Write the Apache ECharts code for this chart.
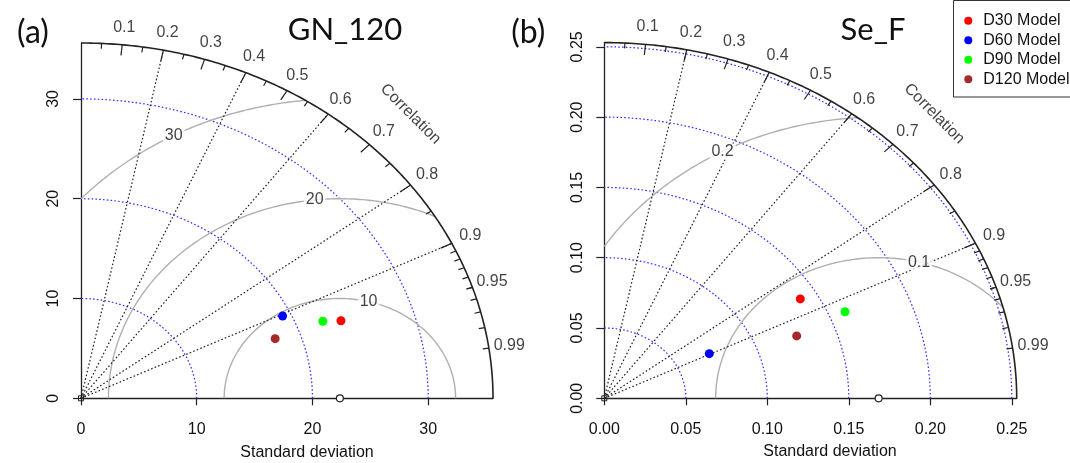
<!DOCTYPE html>
<html><head><meta charset="utf-8">
<script src="https://cdn.jsdelivr.net/npm/echarts@6/dist/echarts.min.js"></script>
<style>html,body{margin:0;padding:0;background:#fff}#c{width:1070px;height:463px}</style>
</head><body><div id="c"></div>
<script>
// ---------- data ----------
const panelTitles = ['GN_120', 'Se_F'];
const panelTags = ['(a)', '(b)'];
const modelNames = ['D30 Model', 'D60 Model', 'D90 Model', 'D120 Model'];
const modelColors = ['#ff0000', '#0000ff', '#00ff00', '#a52a2a'];
const corrLines = [0.2, 0.4, 0.6, 0.8, 0.9];
const corrLabelValues = [0.1, 0.2, 0.3, 0.4, 0.5, 0.6, 0.7, 0.8, 0.9, 0.95, 0.99];
const corrLabelTexts = ['0.1', '0.2', '0.3', '0.4', '0.5', '0.6', '0.7', '0.8', '0.9', '0.95', '0.99'];

// panel (a) GN_120
const refSdA = 22.37;
const modelSdA = [23.77, 19.27, 22.28, 17.81];
const modelCorrA = [0.945, 0.904, 0.938, 0.942];
const maxSdA = 35.6;
const sdTicksA = [0, 10, 20, 30];
const sdArcsA = [10, 20, 30];
const rmsArcsA = [10, 20, 30];
const rmsLabelsA = ['10', '20', '30'];

// panel (b) Se_F
const refSdB = 0.1683;
const modelSdB = [0.1395, 0.0718, 0.1600, 0.1261];
const modelCorrB = [0.862, 0.897, 0.923, 0.936];
const maxSdB = 0.253;
const sdTicksB = [0, 0.05, 0.10, 0.15, 0.20, 0.25];
const sdArcsB = [0.05, 0.10, 0.15, 0.20, 0.25];
const rmsArcsB = [0.1, 0.2];
const rmsLabelsB = ['0.1', '0.2'];

// ---------- layout / style ----------
const FONT = '"Liberation Sans", Arial, sans-serif';
const TFONT = 'Lato, "Liberation Sans", sans-serif';
const TXT = '#111';
const grids = [
  { left: 81, top: 43, width: 412, height: 355.3 },
  { left: 604.3, top: 42.6, width: 412.4, height: 355.7 }
];
const DOT = [1.6, 2.2];

const panels = [
  { ref: refSdA, sd: modelSdA, cor: modelCorrA, max: maxSdA, ticks: sdTicksA, arcs: sdArcsA, rms: rmsArcsA, rmsLab: rmsLabelsA, dec: 0 },
  { ref: refSdB, sd: modelSdB, cor: modelCorrB, max: maxSdB, ticks: sdTicksB, arcs: sdArcsB, rms: rmsArcsB, rmsLab: rmsLabelsB, dec: 2 }
];

function arc(cx, r, t0, t1, n) {
  const pts = [];
  for (let i = 0; i <= n; i++) {
    const t = t0 + (t1 - t0) * i / n;
    pts.push([cx + r * Math.cos(t), r * Math.sin(t)]);
  }
  return pts;
}

const series = [];
const xAxes = [], yAxes = [];

panels.forEach((p, gi) => {
  const base = { xAxisIndex: gi, yAxisIndex: gi, silent: true, animation: false };
  const M = p.max;
  xAxes.push({
    gridIndex: gi, type: 'value', min: 0, max: M,
    axisLine: { show: true, onZero: false, lineStyle: { color: '#222', width: 1.3 } },
    axisTick: { show: true, length: 7, customValues: p.ticks, lineStyle: { color: '#222', width: 1.2 } },
    axisLabel: { customValues: p.ticks, fontSize: 16, color: TXT, fontFamily: FONT, margin: 23,
      formatter: v => Number(v).toFixed(p.dec) },
    splitLine: { show: false }
  });
  yAxes.push({
    gridIndex: gi, type: 'value', min: 0, max: M,
    axisLine: { show: true, onZero: false, lineStyle: { color: '#222', width: 1.3 } },
    axisTick: { show: true, length: 8, customValues: p.ticks, lineStyle: { color: '#222', width: 1.2 } },
    axisLabel: { customValues: p.ticks, fontSize: 16, color: TXT, fontFamily: FONT, margin: 19, rotate: 90,
      formatter: v => Number(v).toFixed(p.dec) },
    splitLine: { show: false }
  });

  // blue sd arcs
  p.arcs.forEach(r => series.push(Object.assign({}, base, {
    type: 'line', data: arc(0, r, 0, Math.PI / 2, 120), symbol: 'none', clip: false, z: 2,
    lineStyle: { color: '#2f2fff', width: 1.2, type: DOT }
  })));

  // grey RMS arcs centred on reference
  p.rms.forEach((g, k) => {
    const c = p.ref;
    let cmax = (M * M - c * c - g * g) / (2 * c * g);
    let t0 = cmax >= 1 ? 0 : Math.acos(Math.max(-1, cmax));
    let cmin = -c / g;
    let t1 = cmin <= -1 ? Math.PI : Math.acos(cmin);
    series.push(Object.assign({}, base, {
      type: 'line', data: arc(c, g, t0, t1, 160), symbol: 'none', clip: false, z: 3,
      lineStyle: { color: '#b0b0b0', width: 1.4, type: 'solid' }
    }));
  });

  // correlation radial lines
  corrLines.forEach(rc => series.push(Object.assign({}, base, {
    type: 'line', data: [[0, 0], [M * rc, M * Math.sqrt(1 - rc * rc)]], symbol: 'none', clip: false, z: 4,
    lineStyle: { color: '#222', width: 1.2, type: DOT }
  })));

  // outer arc
  series.push(Object.assign({}, base, {
    type: 'line', data: arc(0, M, 0, Math.PI / 2, 200), symbol: 'none', clip: false, z: 5,
    lineStyle: { color: '#222', width: 1.6 }
  }));

  // ticks on outer arc
  const tickSets = [];
  for (let i = 1; i <= 9; i++) tickSets.push([i / 10, 0.97]);
  for (let i = 0; i < 10; i++) tickSets.push([0.05 + i / 10, 0.985]);
  for (let i = 1; i <= 9; i++) tickSets.push([0.9 + i / 100, 0.985]);
  tickSets.forEach(([rc, f]) => {
    const s = Math.sqrt(1 - rc * rc);
    series.push(Object.assign({}, base, {
      type: 'line', data: [[M * rc, M * s], [M * f * rc, M * f * s]], symbol: 'none', clip: false, z: 5,
      lineStyle: { color: '#222', width: 1.2 }
    }));
  });

  // correlation labels
  series.push(Object.assign({}, base, {
    type: 'scatter', clip: false, symbolSize: 0, z: 6,
    data: corrLabelValues.map((rc, i) => ({ name: corrLabelTexts[i], value: [1.05 * M * rc, 1.05 * M * Math.sqrt(1 - rc * rc)] })),
    label: { show: true, position: 'inside', formatter: d => d.name, fontSize: 16, color: TXT, fontFamily: FONT }
  }));
  series.push(Object.assign({}, base, {
    type: 'scatter', clip: false, symbolSize: 0, z: 6,
    data: [{ name: 'Correlation', value: [0.8 * M, 0.8 * M] }],
    label: { show: true, position: 'inside', formatter: d => d.name, rotate: -45, fontSize: 16, color: TXT, fontFamily: FONT }
  }));

  // RMS labels (plotrix label positions)
  const n = p.rms.length;
  series.push(Object.assign({}, base, {
    type: 'scatter', clip: false, symbolSize: 0, z: 7,
    data: p.rms.map((g, k) => {
      const idx = Math.floor(n === 1 ? 45 : 45 + (70 - 45) * k / (n - 1));
      const t = (idx - 1) * 0.03;
      return { name: p.rmsLab[k], value: [p.ref + g * Math.cos(t), g * Math.sin(t)] };
    }),
    label: { show: true, position: 'inside', formatter: d => d.name, fontSize: 16, color: TXT, fontFamily: FONT,
      backgroundColor: '#fff', padding: [0, 2, 0, 2] }
  }));

  // reference point & origin marker
  series.push(Object.assign({}, base, {
    type: 'scatter', clip: false, z: 8,
    data: [[p.ref, 0]], symbol: 'circle', symbolSize: 7,
    itemStyle: { color: '#fff', borderColor: '#222', borderWidth: 1.2, opacity: 1 }
  }));
  series.push(Object.assign({}, base, {
    type: 'scatter', clip: false, z: 8,
    data: [[0, 0]], symbol: 'rect', symbolSize: 5,
    itemStyle: { color: 'rgba(0,0,0,0)', borderColor: '#222', borderWidth: 1, opacity: 1 }
  }));

  // models
  modelNames.forEach((nm, i) => {
    const r = p.sd[i], c = p.cor[i];
    series.push(Object.assign({}, base, {
      type: 'scatter', name: nm, clip: false, z: 9,
      data: [[r * c, r * Math.sqrt(1 - c * c)]], symbol: 'circle', symbolSize: 9,
      itemStyle: { color: modelColors[i], opacity: 1 }
    }));
  });
});

const chart = echarts.init(document.getElementById('c'), null, { renderer: 'canvas' });
chart.setOption({
  animation: false,
  backgroundColor: '#fff',
  grid: grids.map(g => Object.assign({ containLabel: false, outerBoundsMode: 'none' }, g)),
  xAxis: xAxes,
  yAxis: yAxes,
  legend: {
    orient: 'vertical', left: 953, top: 0, data: modelNames, selectedMode: false,
    icon: 'circle', itemWidth: 8, itemHeight: 8, itemGap: 3.5,
    padding: [12.7, 4, 10.5, 11.3], borderWidth: 0,
    itemStyle: { opacity: 1 },
    textStyle: { fontSize: 16, color: TXT, fontFamily: FONT, lineHeight: 16, padding: [0, 0, 0, 6] }
  },
  graphic: [
    { type: 'rect', shape: { x: 953.5, y: 0.5, width: 140, height: 96.5 }, style: { fill: 'none', stroke: '#333', lineWidth: 1 }, silent: true, z: 10 },
    { type: 'text', x: 33, y: 32.5, style: { text: panelTags[0], font: '32px ' + TFONT, fill: '#111', align: 'center', verticalAlign: 'middle' } },
    { type: 'text', x: 345, y: 30, style: { text: panelTitles[0], font: '31px ' + TFONT, fill: '#111', align: 'center', verticalAlign: 'middle' } },
    { type: 'text', x: 528.3, y: 32.5, style: { text: panelTags[1], font: '32px ' + TFONT, fill: '#111', align: 'center', verticalAlign: 'middle' } },
    { type: 'text', x: 873, y: 30, style: { text: panelTitles[1], font: '31px ' + TFONT, fill: '#111', align: 'center', verticalAlign: 'middle' } },
    { type: 'text', x: 307, y: 453, style: { text: 'Standard deviation', font: '16px ' + FONT, fill: TXT, align: 'center', verticalAlign: 'middle' } },
    { type: 'text', x: 830, y: 452, style: { text: 'Standard deviation', font: '16px ' + FONT, fill: TXT, align: 'center', verticalAlign: 'middle' } }
  ],
  series: series
});
</script>
</body></html>
